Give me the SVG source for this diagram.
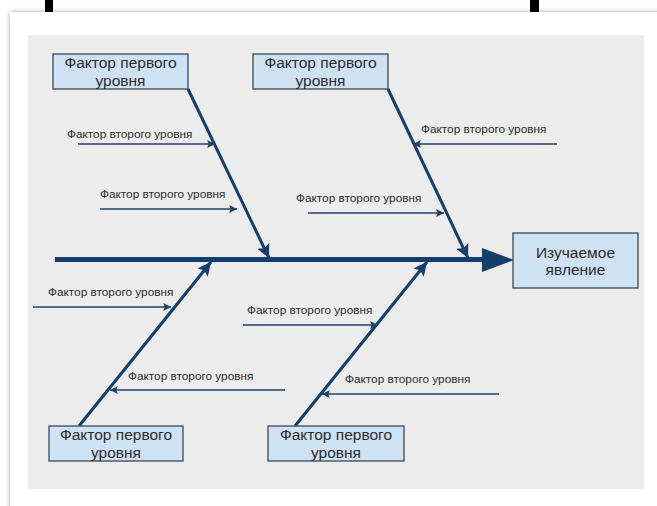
<svg xmlns="http://www.w3.org/2000/svg" width="657" height="506" viewBox="0 0 657 506">
<defs>
<filter id="sh" x="-5%" y="-5%" width="110%" height="110%">
<feDropShadow dx="0" dy="0" stdDeviation="2.5" flood-color="#000" flood-opacity="0.35"/>
</filter>
<marker id="mid" viewBox="0 0 10 10" refX="10" refY="5" markerWidth="4.5" markerHeight="4.5" markerUnits="strokeWidth" orient="auto">
<path d="M0,0 L10,5 L0,10 L2,5 z" fill="#143e6b"/>
</marker>
<marker id="sm" viewBox="0 0 10 10" refX="10" refY="5" markerWidth="8" markerHeight="6" markerUnits="strokeWidth" orient="auto">
<path d="M0,0 L10,5 L0,10 L2,5 z" fill="#22406a"/>
</marker>
<style>
.node rect{fill:#cfe2f3;stroke:#3b4756;stroke-width:1.3}
.nt{font-family:"Liberation Sans",Arial,sans-serif;font-size:15.5px;fill:#2b2b2b;text-anchor:middle}
.lt{font-family:"Liberation Sans",Arial,sans-serif;font-size:11.8px;fill:#2b2b2b}
.bone{stroke:#143e6b;stroke-width:3;fill:none;marker-end:url(#mid)}
.sub{stroke:#22406a;stroke-width:1.3;fill:none;marker-end:url(#sm)}
</style>
</defs>
<rect x="0" y="0" width="657" height="506" fill="#ffffff"/>
<rect x="45" y="0" width="8" height="12" fill="#000"/>
<rect x="530" y="0" width="9" height="12" fill="#000"/>
<rect x="10" y="12" width="660" height="500" fill="#ffffff" filter="url(#sh)"/>
<rect x="28" y="35" width="616" height="454" fill="#ececec"/>

<g id="connectors">
<line x1="55" y1="259.5" x2="485" y2="259.5" stroke="#143e6b" stroke-width="5"/>
<path d="M482,248 L514,260 L482,272 z" fill="#143e6b"/>
<line class="bone" x1="188" y1="89" x2="269" y2="258"/>
<line class="bone" x1="388" y1="89" x2="468" y2="258"/>
<line class="bone" x1="79" y1="426" x2="211" y2="262"/>
<line class="bone" x1="295" y1="426" x2="427" y2="262"/>
<line class="sub" x1="78" y1="144" x2="215" y2="144"/>
<line class="sub" x1="100" y1="209" x2="237" y2="209"/>
<line class="sub" x1="557" y1="144" x2="413" y2="144"/>
<line class="sub" x1="308" y1="213" x2="444" y2="213"/>
<line class="sub" x1="33" y1="307" x2="171" y2="307"/>
<line class="sub" x1="285" y1="390" x2="110" y2="390"/>
<line class="sub" x1="243" y1="325" x2="378" y2="325"/>
<line class="sub" x1="499" y1="394" x2="322" y2="394"/>
</g>

<g id="labels">
<text class="lt" x="67" y="138">Фактор второго уровня</text>
<text class="lt" x="100" y="198">Фактор второго уровня</text>
<text class="lt" x="421" y="133">Фактор второго уровня</text>
<text class="lt" x="296" y="202">Фактор второго уровня</text>
<text class="lt" x="48" y="296">Фактор второго уровня</text>
<text class="lt" x="128" y="380">Фактор второго уровня</text>
<text class="lt" x="247" y="314">Фактор второго уровня</text>
<text class="lt" x="345" y="383">Фактор второго уровня</text>
</g>

<g id="n1" class="node">
<rect x="53" y="54" width="135" height="35"/>
<text class="nt" x="120.5" y="68">Фактор первого</text>
<text class="nt" x="120.5" y="85.5">уровня</text>
</g>
<g id="n2" class="node">
<rect x="253" y="54" width="135" height="35"/>
<text class="nt" x="320.5" y="68">Фактор первого</text>
<text class="nt" x="320.5" y="85.5">уровня</text>
</g>
<g id="n3" class="node">
<rect x="49" y="426" width="134" height="35"/>
<text class="nt" x="116" y="440">Фактор первого</text>
<text class="nt" x="116" y="457.5">уровня</text>
</g>
<g id="n4" class="node">
<rect x="268" y="426" width="136" height="35"/>
<text class="nt" x="336" y="440">Фактор первого</text>
<text class="nt" x="336" y="457.5">уровня</text>
</g>
<g id="result" class="node">
<rect x="513" y="233" width="125" height="55"/>
<text class="nt" x="575.5" y="257.5">Изучаемое</text>
<text class="nt" x="575.5" y="275">явление</text>
</g>
</svg>
